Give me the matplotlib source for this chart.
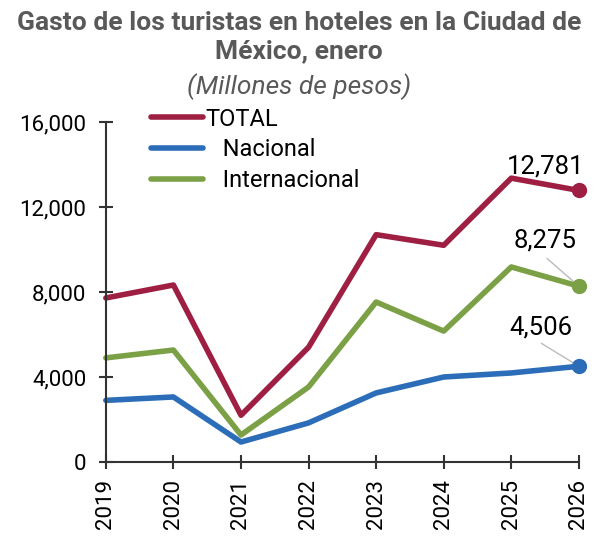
import matplotlib.pyplot as plt

plt.rcParams['font.family'] = ['Roboto', 'DejaVu Sans']

years = [2019, 2020, 2021, 2022, 2023, 2024, 2025, 2026]
total = [7720, 8330, 2200, 5400, 10700, 10200, 13360, 12781]
nacional = [2900, 3060, 940, 1840, 3250, 4000, 4190, 4506]
internacional = [4900, 5270, 1270, 3530, 7530, 6160, 9180, 8275]
yticks = [0, 4000, 8000, 12000, 16000]

c_total = '#9E1F42'
c_nac = '#2B6DB8'
c_int = '#7BA046'
gray = '#595959'

fig = plt.figure(figsize=(5.98, 5.37), dpi=100)
ax = fig.add_axes([0.177, 0.1397, 0.791, 0.633])

ax.plot(years, total, color=c_total, lw=4, label='TOTAL', solid_capstyle='round', clip_on=False)
ax.plot(years, nacional, color=c_nac, lw=4, label='   Nacional', solid_capstyle='round', clip_on=False)
ax.plot(years, internacional, color=c_int, lw=4, label='   Internacional', solid_capstyle='round', clip_on=False)

for s, c in [(total, c_total), (nacional, c_nac), (internacional, c_int)]:
    ax.plot(years[-1], s[-1], 'o', color=c, ms=10, clip_on=False, zorder=5)

ax.set_xlim(years[0], years[-1])
ax.set_ylim(0, 16000)
ax.set_yticks(yticks)
ax.set_yticklabels([f'{v:,}' for v in yticks])
ax.set_xticks(years)
ax.set_xticklabels([str(y) for y in years], rotation=90)
ax.tick_params(axis='both', direction='inout', length=10, width=1.5, color='#333333',
               labelsize=16, labelcolor='black')
ax.tick_params(axis='x', pad=7)
ax.tick_params(axis='y', pad=9)
for sp in ['top', 'right']:
    ax.spines[sp].set_visible(False)
for sp in ['left', 'bottom']:
    ax.spines[sp].set_linewidth(1.5)
    ax.spines[sp].set_color('#333333')

# value labels
ax.annotate(f'{total[-1]:,}', xy=(years[-1], total[-1]), xytext=(-24, 17),
            textcoords='offset points', ha='center', va='center', fontsize=18.5)
ax.annotate(f'{internacional[-1]:,}', xy=(years[-1], internacional[-1]), xytext=(-24, 33),
            textcoords='offset points', ha='center', va='center', fontsize=18.5)
ax.annotate(f'{nacional[-1]:,}', xy=(years[-1], nacional[-1]), xytext=(-27, 28),
            textcoords='offset points', ha='center', va='center', fontsize=18.5)
# leader lines
ax.annotate('', xy=(years[-1], internacional[-1]), xytext=(-23, 20), textcoords='offset points',
            arrowprops=dict(arrowstyle='-', color='#BBBBBB', lw=1, shrinkA=0, shrinkB=2))
ax.annotate('', xy=(years[-1], nacional[-1]), xytext=(-27, 16.5), textcoords='offset points',
            arrowprops=dict(arrowstyle='-', color='#BBBBBB', lw=1, shrinkA=0, shrinkB=2))

ax.legend(loc='upper left', bbox_to_anchor=(0.075, 1.07), frameon=False, fontsize=17,
          handlelength=2.2, handletextpad=0.1, labelspacing=0.32, borderaxespad=0)

fig.text(0.5, 0.944, 'Gasto de los turistas en hoteles en la Ciudad de',
         ha='center', va='baseline', fontsize=19, fontweight='bold', color=gray)
fig.text(0.5, 0.892, 'México, enero',
         ha='center', va='baseline', fontsize=19, fontweight='bold', color=gray)
fig.text(0.5, 0.825, '(Millones de pesos)', ha='center', va='baseline', fontsize=19,
         style='italic', color=gray)

fig.savefig('out.png', dpi=100)
